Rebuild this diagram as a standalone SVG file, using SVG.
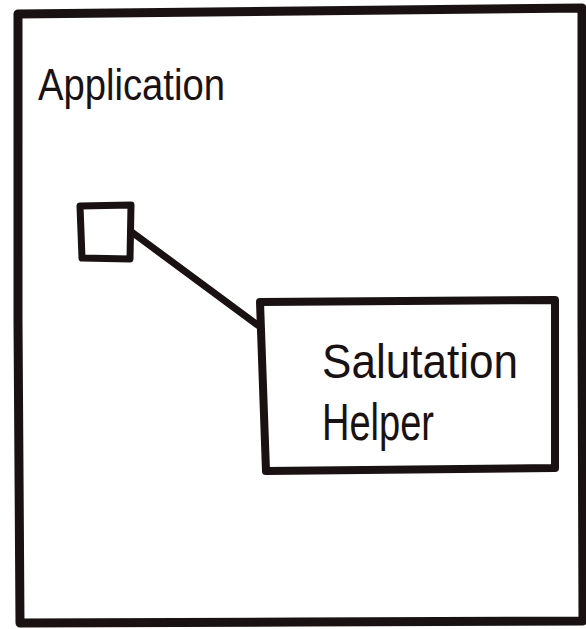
<svg xmlns="http://www.w3.org/2000/svg" width="586" height="629" viewBox="0 0 586 629">
<style>
.ink{fill:none;stroke:#1a1112;stroke-linejoin:round;stroke-linecap:round}
.lbl{font-family:"Liberation Sans",Arial,sans-serif;fill:#1a1112}
</style>
<rect width="586" height="629" fill="#ffffff"/>
<g id="application">
<path class="ink" stroke-width="9" d="M18,14 L300,11 L582,8 L582,320 L583,621 L300,622 L20,623 L18,320 Z"/>
<text class="lbl" x="38" y="100" font-size="44" textLength="187" lengthAdjust="spacingAndGlyphs">Application</text>
</g>
<g id="connectors">
<path class="ink" stroke-width="7" d="M133,233 L259,326"/>
</g>
<g id="port">
<path class="ink" stroke-width="7" d="M80,206 L131,205 L130,259 L82,258 Z"/>
</g>
<g id="salutation-helper">
<path class="ink" stroke-width="8" d="M260,302 L555,300 L555,468 L266,471 Z"/>
<text class="lbl" x="322" y="378" font-size="48" textLength="196" lengthAdjust="spacingAndGlyphs">Salutation</text>
<text class="lbl" x="322" y="440" font-size="52" textLength="112" lengthAdjust="spacingAndGlyphs">Helper</text>
</g>
</svg>
